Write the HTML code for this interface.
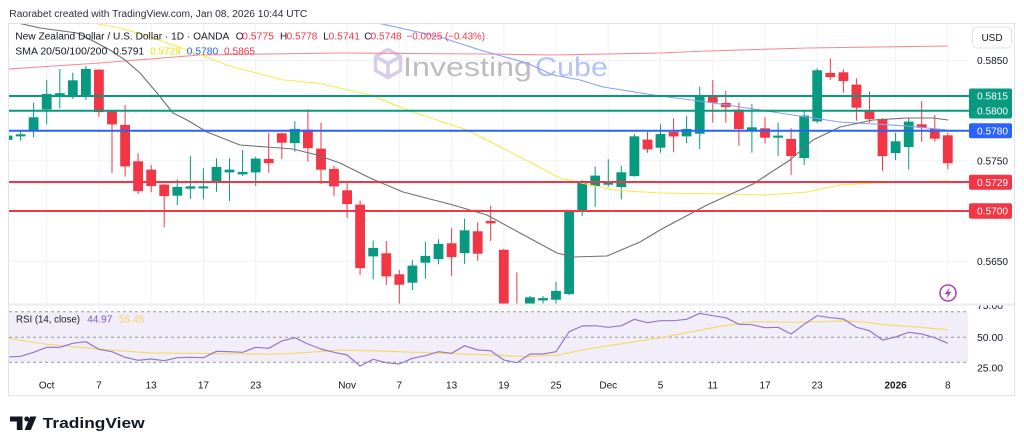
<!DOCTYPE html>
<html><head><meta charset="utf-8"><style>
html,body{margin:0;padding:0;background:#fff;width:1024px;height:448px;overflow:hidden}
svg{display:block;font-family:"Liberation Sans",sans-serif}
</style></head><body>
<svg width="1024" height="448" viewBox="0 0 1024 448" xmlns="http://www.w3.org/2000/svg">
<defs>
<clipPath id="mp"><rect x="9" y="24" width="959" height="280"/></clipPath>
<clipPath id="rp"><rect x="9" y="306" width="959" height="62"/></clipPath>
<clipPath id="ra"><rect x="969" y="305.5" width="45" height="70"/></clipPath>
</defs>
<rect width="1024" height="448" fill="#fff"/>
<text x="9.3" y="17" font-size="10" fill="#2a2e39" textLength="298" lengthAdjust="spacingAndGlyphs">Raorabet created with TradingView.com, Jan 08, 2026 10:44 UTC</text>
<rect x="8.5" y="23.5" width="1006" height="372" fill="#fff" stroke="#e0e3eb"/>

<!-- grid -->
<g stroke="#f0f2f7" stroke-width="1">
<line x1="9" x2="968" y1="60.5" y2="60.5"/><line x1="9" x2="968" y1="110.5" y2="110.5"/><line x1="9" x2="968" y1="160.8" y2="160.8"/><line x1="9" x2="968" y1="211" y2="211"/><line x1="9" x2="968" y1="261.2" y2="261.2"/>
<line x1="46.7" x2="46.7" y1="24" y2="368"/><line x1="98.9" x2="98.9" y1="24" y2="368"/><line x1="151.2" x2="151.2" y1="24" y2="368"/><line x1="203.4" x2="203.4" y1="24" y2="368"/><line x1="255.7" x2="255.7" y1="24" y2="368"/><line x1="347.1" x2="347.1" y1="24" y2="368"/><line x1="399.3" x2="399.3" y1="24" y2="368"/><line x1="451.6" x2="451.6" y1="24" y2="368"/><line x1="503.8" x2="503.8" y1="24" y2="368"/><line x1="556" x2="556" y1="24" y2="368"/><line x1="608.3" x2="608.3" y1="24" y2="368"/><line x1="660.5" x2="660.5" y1="24" y2="368"/><line x1="712.8" x2="712.8" y1="24" y2="368"/><line x1="765" x2="765" y1="24" y2="368"/><line x1="817.2" x2="817.2" y1="24" y2="368"/><line x1="895.6" x2="895.6" y1="24" y2="368"/><line x1="947.8" x2="947.8" y1="24" y2="368"/>
</g>

<!-- watermark -->
<g opacity="0.9">
<polygon points="388,49.5 400.5,56.5 400.5,70.5 388,77.5 375.5,70.5 375.5,56.5" fill="none" stroke="#d6c6e6" stroke-width="3.5" stroke-linejoin="round"/>
<polyline points="375.5,56.5 388,63.5 400.5,56.5" fill="none" stroke="#cfc8ee" stroke-width="3.5"/>
<line x1="388" y1="63.5" x2="388" y2="77.5" stroke="#cfc8ee" stroke-width="3.5"/>
<text x="403" y="76" font-size="27" fill="#b6b6b6" textLength="129" lengthAdjust="spacingAndGlyphs">Investing</text>
<text x="535" y="76" font-size="27" fill="#adbdf3" textLength="73" lengthAdjust="spacingAndGlyphs">Cube</text>
</g>

<!-- main pane -->
<g clip-path="url(#mp)">
<g fill="#089981">
<rect x="7" y="134" width="1" height="7"/><rect x="20.1" y="131.7" width="1" height="9"/><rect x="33.1" y="102.7" width="1" height="34.6"/><rect x="46.2" y="80" width="1" height="44.3"/><rect x="59.3" y="69" width="1" height="39.3"/><rect x="72.3" y="72.7" width="1" height="26.3"/><rect x="85.4" y="66" width="1" height="34"/><rect x="176.8" y="179.3" width="1" height="25.7"/><rect x="189.9" y="156" width="1" height="43"/><rect x="202.9" y="168.3" width="1" height="31"/><rect x="216" y="158.3" width="1" height="33.4"/><rect x="229" y="158.3" width="1" height="42.7"/><rect x="242.1" y="150" width="1" height="26"/><rect x="255.2" y="156.7" width="1" height="29.3"/><rect x="294.3" y="121" width="1" height="30.7"/><rect x="372.7" y="240.7" width="1" height="38.6"/><rect x="411.9" y="260" width="1" height="30"/><rect x="424.9" y="242" width="1" height="36.7"/><rect x="438" y="239.3" width="1" height="25"/><rect x="464.1" y="218.7" width="1" height="45.3"/><rect x="529.4" y="296" width="1" height="14"/><rect x="542.5" y="296" width="1" height="14"/><rect x="555.5" y="281.7" width="1" height="24.3"/><rect x="568.6" y="210" width="1" height="85"/><rect x="581.7" y="180" width="1" height="36"/><rect x="594.7" y="166.7" width="1" height="40"/><rect x="607.8" y="159.3" width="1" height="27.4"/><rect x="620.8" y="166" width="1" height="33.3"/><rect x="633.9" y="134" width="1" height="42.7"/><rect x="660" y="124.3" width="1" height="28.4"/><rect x="686.1" y="116" width="1" height="27.3"/><rect x="699.2" y="86.7" width="1" height="62.3"/><rect x="751.4" y="104" width="1" height="48.7"/><rect x="777.6" y="122.7" width="1" height="33.3"/><rect x="803.7" y="110" width="1" height="55"/><rect x="816.7" y="68.3" width="1" height="55"/><rect x="895.1" y="132.7" width="1" height="27.3"/><rect x="908.2" y="118.3" width="1" height="51"/>
</g>
<g fill="#089981" stroke="#089981" stroke-width="0.8">
<rect x="3" y="136" width="9" height="3.5"/><rect x="16.1" y="134.7" width="9" height="1.3"/><rect x="29.1" y="117.7" width="9" height="13.3"/><rect x="42.2" y="94.3" width="9" height="14.7"/><rect x="55.3" y="93.6" width="9" height="1.4"/><rect x="68.3" y="80.7" width="9" height="14.3"/><rect x="81.4" y="69.3" width="9" height="25.7"/><rect x="172.8" y="187.3" width="9" height="8"/><rect x="185.9" y="186.7" width="9" height="1.6"/><rect x="198.9" y="186.8" width="9" height="1.2"/><rect x="212" y="167.3" width="9" height="15.4"/><rect x="225" y="170" width="9" height="2"/><rect x="238.1" y="172.3" width="9" height="1.7"/><rect x="251.2" y="159" width="9" height="13"/><rect x="290.3" y="129.3" width="9" height="13.4"/><rect x="368.7" y="248.3" width="9" height="7.7"/><rect x="407.9" y="266" width="9" height="16.3"/><rect x="420.9" y="256.3" width="9" height="6"/><rect x="434" y="244.3" width="9" height="14.4"/><rect x="460.1" y="230.7" width="9" height="22"/><rect x="525.4" y="297.7" width="9" height="12.3"/><rect x="538.5" y="298.5" width="9" height="1.5"/><rect x="551.5" y="291.3" width="9" height="8"/><rect x="564.6" y="211" width="9" height="82.7"/><rect x="577.7" y="181.7" width="9" height="28.6"/><rect x="590.7" y="176" width="9" height="9.7"/><rect x="603.8" y="181.7" width="9" height="2.6"/><rect x="616.8" y="172.7" width="9" height="14"/><rect x="629.9" y="136.7" width="9" height="39"/><rect x="656" y="134.3" width="9" height="13"/><rect x="682.1" y="129.3" width="9" height="6.7"/><rect x="695.2" y="96" width="9" height="37.3"/><rect x="747.4" y="127.7" width="9" height="2.3"/><rect x="773.6" y="136" width="9" height="1.3"/><rect x="799.7" y="116" width="9" height="41.7"/><rect x="812.7" y="70.7" width="9" height="50.3"/><rect x="891.1" y="141.7" width="9" height="11"/><rect x="904.2" y="122" width="9" height="24.7"/>
</g>
<g fill="#f23645">
<rect x="98.4" y="69.3" width="1" height="47.4"/><rect x="111.5" y="110" width="1" height="63.3"/><rect x="124.6" y="105" width="1" height="71.7"/><rect x="137.6" y="153.3" width="1" height="40.7"/><rect x="150.7" y="165" width="1" height="27.3"/><rect x="163.7" y="184" width="1" height="43.3"/><rect x="268.2" y="132.7" width="1" height="40"/><rect x="281.3" y="132.7" width="1" height="26.3"/><rect x="307.4" y="109.3" width="1" height="52.4"/><rect x="320.5" y="122.7" width="1" height="61.3"/><rect x="333.5" y="166" width="1" height="30"/><rect x="346.6" y="181.7" width="1" height="36.6"/><rect x="359.6" y="200.7" width="1" height="74.3"/><rect x="385.8" y="241" width="1" height="44"/><rect x="398.8" y="270" width="1" height="34"/><rect x="451.1" y="228.3" width="1" height="47.7"/><rect x="477.2" y="222.3" width="1" height="38.4"/><rect x="490.2" y="205.7" width="1" height="35.3"/><rect x="503.3" y="248.7" width="1" height="71.3"/><rect x="516.4" y="272.3" width="1" height="47.7"/><rect x="647" y="132" width="1" height="20.7"/><rect x="673.1" y="118.3" width="1" height="34"/><rect x="712.3" y="80" width="1" height="42.7"/><rect x="725.3" y="91" width="1" height="31.7"/><rect x="738.4" y="102.7" width="1" height="43"/><rect x="764.5" y="117.3" width="1" height="26"/><rect x="790.6" y="128.3" width="1" height="46.7"/><rect x="829.8" y="58.3" width="1" height="21.7"/><rect x="842.9" y="69.3" width="1" height="23.4"/><rect x="855.9" y="78.3" width="1" height="42.4"/><rect x="869" y="91.7" width="1" height="31"/><rect x="882" y="118.3" width="1" height="52.4"/><rect x="921.2" y="101" width="1" height="40.7"/><rect x="934.3" y="115" width="1" height="26.7"/><rect x="947.3" y="132.7" width="1" height="36.4"/>
</g>
<g fill="#f23645" stroke="#f23645" stroke-width="0.8">
<rect x="94.4" y="70" width="9" height="41.7"/><rect x="107.5" y="112" width="9" height="12"/><rect x="120.6" y="125.3" width="9" height="40.7"/><rect x="133.6" y="161.7" width="9" height="29"/><rect x="146.7" y="170" width="9" height="15.7"/><rect x="159.7" y="185" width="9" height="10.7"/><rect x="264.2" y="159.3" width="9" height="3.4"/><rect x="277.3" y="133.7" width="9" height="8.6"/><rect x="303.4" y="130" width="9" height="17.7"/><rect x="316.5" y="149" width="9" height="20.3"/><rect x="329.5" y="169.3" width="9" height="16.7"/><rect x="342.6" y="190.7" width="9" height="13"/><rect x="355.6" y="205" width="9" height="62.7"/><rect x="381.8" y="253.7" width="9" height="22.3"/><rect x="394.8" y="274.7" width="9" height="9.6"/><rect x="447.1" y="243.7" width="9" height="13"/><rect x="473.2" y="231.7" width="9" height="21.6"/><rect x="486.2" y="221.3" width="9" height="1.7"/><rect x="499.3" y="250.3" width="9" height="70"/><rect x="512.4" y="310" width="9" height="10"/><rect x="643" y="140" width="9" height="9"/><rect x="669.1" y="132.3" width="9" height="3.7"/><rect x="708.3" y="96" width="9" height="6.3"/><rect x="721.3" y="103.3" width="9" height="3.4"/><rect x="734.4" y="110" width="9" height="18.7"/><rect x="760.5" y="128.7" width="9" height="8.6"/><rect x="786.6" y="139.3" width="9" height="16.4"/><rect x="825.8" y="73.3" width="9" height="3.4"/><rect x="838.9" y="72.7" width="9" height="8"/><rect x="851.9" y="85" width="9" height="22.3"/><rect x="865" y="111" width="9" height="7.7"/><rect x="878" y="119.3" width="9" height="36.4"/><rect x="917.2" y="124.7" width="9" height="2.6"/><rect x="930.3" y="129" width="9" height="9.3"/><rect x="943.3" y="135.7" width="9" height="27.1"/>
</g>
<!-- SMAs -->
<g fill="none" stroke-width="1.1" stroke-linejoin="round">
<polyline stroke="#f58c95" points="8,69 100,63 200,55 340,53 487,54 553,55 660,53 707,51 807,48 948,46"/>
<polyline stroke="#86a0ff" points="360,20 378,23 440,37 480,50 527,63 553,75 580,80 603,87 660,96 707,102 773,112 840,122 907,126 947,130"/>
<polyline stroke="#f7e94f" points="88,22 120,28 150,37 187,50 233,67 283,80 317,83 340,88 370,95 413,112 467,130 520,157 560,178 577,182 613,190 660,193 730,194 767,195 807,192 840,185 873,183 948,181"/>
<polyline stroke="#707070" points="8,21 18,23 40,28 77,33 95,42 110,50 125,60 140,73 157,93 173,113 187,120 207,132 240,145 267,147 293,149 317,155 340,163 370,178 403,192 453,205 487,215 520,233 557,253 573,257 607,256 640,242 660,230 673,223 707,205 753,184 790,160 813,140 840,127 873,120 907,118 933,118 948,120"/>
</g>
</g>

<!-- S/R lines -->
<g stroke-width="2">
<line x1="9" x2="969" y1="96" y2="96" stroke="#089981"/>
<line x1="9" x2="969" y1="110.7" y2="110.7" stroke="#089981"/>
<line x1="9" x2="969" y1="130.7" y2="130.7" stroke="#2962ff"/>
<line x1="9" x2="969" y1="182" y2="182" stroke="#f23645"/>
<line x1="9" x2="969" y1="211" y2="211" stroke="#f23645"/>
</g>

<!-- legend -->
<g font-size="10">
<text x="15.3" y="39.5" fill="#131722" textLength="214" lengthAdjust="spacingAndGlyphs">New Zealand Dollar / U.S. Dollar · 1D · OANDA</text>
<text x="235.7" y="39.5" fill="#131722">O</text><text x="242" y="39.5" fill="#f23645" textLength="32" lengthAdjust="spacingAndGlyphs">0.5775</text>
<text x="280" y="39.5" fill="#131722">H</text><text x="286.7" y="39.5" fill="#f23645" textLength="30.7" lengthAdjust="spacingAndGlyphs">0.5778</text>
<text x="323.3" y="39.5" fill="#131722">L</text><text x="328.5" y="39.5" fill="#f23645" textLength="31.5" lengthAdjust="spacingAndGlyphs">0.5741</text>
<text x="364.3" y="39.5" fill="#131722">C</text><text x="370.5" y="39.5" fill="#f23645" textLength="31.2" lengthAdjust="spacingAndGlyphs">0.5748</text>
<text x="406.7" y="39.5" fill="#f23645" textLength="78.3" lengthAdjust="spacingAndGlyphs">−0.0025 (−0.43%)</text>
<text x="15.3" y="54.5" fill="#131722" textLength="92" lengthAdjust="spacingAndGlyphs">SMA 20/50/100/200</text>
<text x="113.3" y="54.5" fill="#131722" textLength="30.7" lengthAdjust="spacingAndGlyphs">0.5791</text>
<text x="150" y="54.5" fill="#f5e20c" textLength="30.7" lengthAdjust="spacingAndGlyphs">0.5729</text>
<text x="186.7" y="54.5" fill="#2962ff" textLength="31.6" lengthAdjust="spacingAndGlyphs">0.5780</text>
<text x="224" y="54.5" fill="#f23645" textLength="31" lengthAdjust="spacingAndGlyphs">0.5865</text>
</g>

<!-- lightning -->
<circle cx="948" cy="293" r="8" fill="#fff" stroke="#ab47bc" stroke-width="1.6"/>
<polygon points="950,287.3 944.5,294.2 947.8,294.2 946.2,298.8 951.6,291.8 948.3,291.8" fill="#ab47bc"/>

<!-- pane separator -->
<rect x="9" y="303.5" width="1005" height="2.2" fill="#eceef2"/>

<!-- RSI pane -->
<rect x="9" y="311.7" width="959" height="50.6" fill="#f2eef9"/>
<g stroke="#9598a1" stroke-width="1" stroke-dasharray="3 3">
<line x1="9" x2="968" y1="311.7" y2="311.7"/><line x1="9" x2="968" y1="337.3" y2="337.3"/><line x1="9" x2="968" y1="362.3" y2="362.3"/>
</g>
<g clip-path="url(#rp)" fill="none" stroke-width="1.2" stroke-linejoin="round">
<polyline stroke="#f7d96a" points="8,338.3 46.7,344.3 98.3,349 150,353 200,353.3 267,354.3 295,353.3 341,350 381,351 427,352.7 492,355 525,356.7 558,355 591,348.3 657,338.3 722,326 755,321.7 793,322.3 820,321.7 847,321 867,322.3 887,325 913,326.7 948,329.7"/>
<polyline stroke="#9575cd" points="7.5,357 20.6,356.3 33.6,352.3 46.7,347.3 59.8,347.3 72.8,343.3 85.9,341.7 98.9,349.3 112,351.7 125.1,357.3 138.1,360.3 151.2,359 164.2,360.7 177.3,357.7 190.4,357.3 203.4,357.7 216.5,351.3 229.5,351.7 242.6,352.3 255.7,347.3 268.7,348.3 281.8,341 294.8,337.7 307.9,344 321,349 334,352.3 347.1,355 360.1,366 373.2,359.3 386.3,362.7 399.3,364 412.4,358.3 425.4,355.7 438.5,351.7 451.6,353.3 464.6,345.7 477.7,350 490.7,350.7 503.8,360 516.9,362.7 529.9,354 543,354 556,351.7 569.1,331.7 582.2,326 595.2,325.7 608.3,327.3 621.3,325.7 634.4,319.3 647.5,322.7 660.5,320.7 673.6,320.7 686.6,319.3 699.7,313.3 712.8,315.7 725.8,317.7 738.9,324.3 751.9,324.7 765,327.7 778.1,327.3 791.1,334 804.2,324.3 817.2,315.7 830.3,317.7 843.4,319 856.4,327.3 869.5,330.7 882.5,340 895.6,337 908.7,332.3 921.7,334 934.8,337.7 947.8,343.3"/>
</g>
<g font-size="10">
<text x="16" y="322.5" fill="#131722" textLength="64" lengthAdjust="spacingAndGlyphs">RSI (14, close)</text>
<text x="87.3" y="322.5" fill="#7e57c2" textLength="25" lengthAdjust="spacingAndGlyphs">44.97</text>
<text x="119" y="322.5" fill="#f5d35a" textLength="25" lengthAdjust="spacingAndGlyphs">55.45</text>
</g>

<!-- price axis -->
<rect x="972.5" y="27" width="39" height="21" rx="4" fill="#fff" stroke="#e0e3eb"/>
<text x="992" y="41" font-size="10" fill="#131722" text-anchor="middle">USD</text>
<g font-size="10" fill="#131722">
<text x="977" y="64" textLength="31" lengthAdjust="spacingAndGlyphs">0.5850</text>
<text x="977" y="164.4" textLength="31" lengthAdjust="spacingAndGlyphs">0.5750</text>
<text x="977" y="264.8" textLength="31" lengthAdjust="spacingAndGlyphs">0.5650</text>
<g clip-path="url(#ra)">
<text x="977" y="309" textLength="26" lengthAdjust="spacingAndGlyphs">75.00</text>
</g>
<text x="977" y="341" textLength="26" lengthAdjust="spacingAndGlyphs">50.00</text>
<text x="977" y="371.3" textLength="26" lengthAdjust="spacingAndGlyphs">25.00</text>
</g>
<rect x="969" y="88.5" width="43" height="30" rx="2" fill="#089981"/>
<rect x="969" y="123.2" width="43" height="15" rx="2" fill="#2962ff"/>
<rect x="969" y="174.8" width="43" height="15" rx="2" fill="#f23645"/>
<rect x="969" y="203.3" width="43" height="15.5" rx="2" fill="#f23645"/>
<g font-size="10" fill="#fff">
<text x="977" y="99.7" textLength="31" lengthAdjust="spacingAndGlyphs">0.5815</text>
<text x="977" y="114.5" textLength="31" lengthAdjust="spacingAndGlyphs">0.5800</text>
<text x="977" y="134.3" textLength="31" lengthAdjust="spacingAndGlyphs">0.5780</text>
<text x="977" y="185.8" textLength="31" lengthAdjust="spacingAndGlyphs">0.5729</text>
<text x="977" y="214.6" textLength="31" lengthAdjust="spacingAndGlyphs">0.5700</text>
</g>

<!-- time axis -->
<g font-size="10" fill="#131722" text-anchor="middle">
<text x="46.7" y="388.6">Oct</text><text x="98.9" y="388.6">7</text><text x="151.2" y="388.6">13</text><text x="203.4" y="388.6">17</text><text x="255.7" y="388.6">23</text><text x="347.1" y="388.6">Nov</text><text x="399.3" y="388.6">7</text><text x="451.6" y="388.6">13</text><text x="503.8" y="388.6">19</text><text x="556" y="388.6">25</text><text x="608.3" y="388.6">Dec</text><text x="660.5" y="388.6">5</text><text x="712.8" y="388.6">11</text><text x="765" y="388.6">17</text><text x="817.2" y="388.6">23</text><text x="895.6" y="388.6" font-weight="bold">2026</text><text x="947.8" y="388.6">8</text>
</g>

<!-- TradingView logo -->
<g fill="#131722">
<rect x="10" y="416.5" width="12.5" height="5"/>
<rect x="16.8" y="416.5" width="5.7" height="13.5"/>
<circle cx="26.8" cy="419" r="2.5"/>
<polygon points="30.2,416.5 36.5,416.5 30.8,430 24.6,430"/>
<text x="42.7" y="428" font-size="15" font-weight="bold" textLength="102" lengthAdjust="spacingAndGlyphs">TradingView</text>
</g>
</svg>
</body></html>
